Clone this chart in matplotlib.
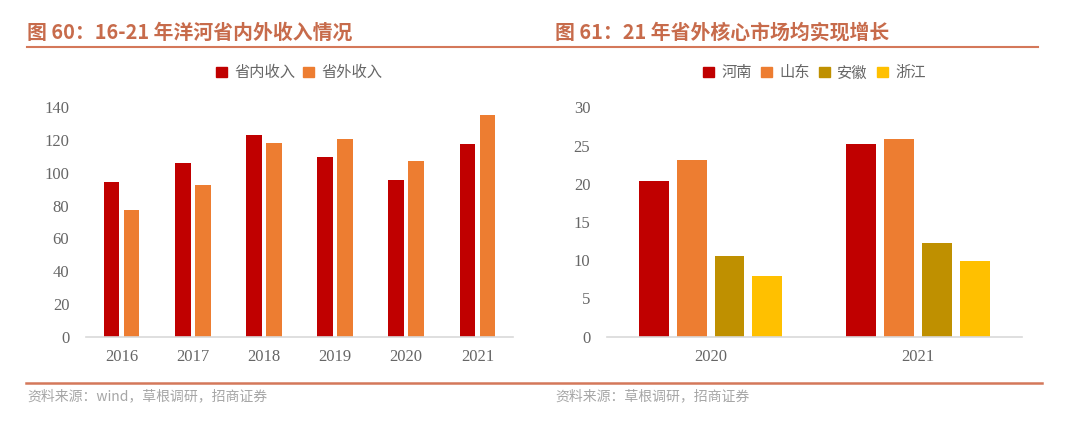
import matplotlib
matplotlib.use("Agg")
import matplotlib.pyplot as plt
from matplotlib.lines import Line2D
from matplotlib.patches import Patch
import numpy as np

plt.rcParams['font.family'] = ['Noto Sans CJK SC', 'DejaVu Sans']

# data - left chart
years = ['2016', '2017', '2018', '2019', '2020', '2021']
inside_income = [94.2, 106.0, 122.9, 109.7, 95.4, 117.6]
outside_income = [77.1, 92.6, 118.2, 120.9, 107.4, 135.3]

# data - right chart
years2 = ['2020', '2021']
henan = [20.3, 25.2]
shandong = [23.1, 25.9]
anhui = [10.6, 12.3]
zhejiang = [7.9, 9.9]

red = '#C00000'
orange = '#ED7D31'
gold = '#BF9000'
yellow = '#FFC000'
title_color = '#C76B4B'
line_color = '#D4785A'
tick_color = '#666666'

fig = plt.figure(figsize=(10.8, 4.29), dpi=100)

ax1 = fig.add_axes([0.0796, 0.2152, 0.3954, 0.5347])
ax2 = fig.add_axes([0.562, 0.2152, 0.384, 0.5347])

# left chart bars
x = np.arange(len(years))
ax1.bar(x - 0.14, inside_income, 0.22, color=red)
ax1.bar(x + 0.14, outside_income, 0.22, color=orange)
ax1.set_xlim(-0.5, len(years) - 0.5)
ax1.set_ylim(0, 140)
ax1.set_yticks(range(0, 141, 20))
ax1.set_xticks(x)
ax1.set_xticklabels(years)

# right chart bars
x2 = np.arange(len(years2))
step = 0.182
w = 0.144
ax2.bar(x2 - 1.5 * step, henan, w, color=red)
ax2.bar(x2 - 0.5 * step, shandong, w, color=orange)
ax2.bar(x2 + 0.5 * step, anhui, w, color=gold)
ax2.bar(x2 + 1.5 * step, zhejiang, w, color=yellow)
ax2.set_xlim(-0.5, len(years2) - 0.5)
ax2.set_ylim(0, 30)
ax2.set_yticks(range(0, 31, 5))
ax2.set_xticks(x2)
ax2.set_xticklabels(years2)

for ax in [ax1, ax2]:
    for s in ['top', 'right', 'left']:
        ax.spines[s].set_visible(False)
    ax.spines['bottom'].set_color('#D9D9D9')
    ax.spines['bottom'].set_linewidth(1.2)
    ax.tick_params(axis='both', length=0, colors=tick_color)
    ax.tick_params(axis='y', pad=12)
    ax.tick_params(axis='x', pad=9)
    for lab in ax.get_xticklabels() + ax.get_yticklabels():
        lab.set_fontfamily('Liberation Serif')
        lab.set_fontsize(12)

# legends
h1 = [Patch(color=red, label='省内收入'), Patch(color=orange, label='省外收入')]
ax1.legend(handles=h1, loc='center', bbox_to_anchor=(0.5, 1.15), ncol=2, frameon=False,
           fontsize=11, handlelength=0.7, handleheight=0.7, handletextpad=0.5,
           columnspacing=0.5, labelcolor=tick_color)
h2 = [Patch(color=red, label='河南'), Patch(color=orange, label='山东'),
      Patch(color=gold, label='安徽'), Patch(color=yellow, label='浙江')]
ax2.legend(handles=h2, loc='center', bbox_to_anchor=(0.5, 1.15), ncol=4, frameon=False,
           fontsize=11, handlelength=0.7, handleheight=0.7, handletextpad=0.5,
           columnspacing=0.6, labelcolor=tick_color)

# titles
fig.text(27 / 1080, 1 - 32 / 429, '图 60：16-21 年洋河省内外收入情况', fontsize=14.3,
         fontweight='bold', color=title_color, va='center', ha='left')
fig.text(555 / 1080, 1 - 32 / 429, '图 61：21 年省外核心市场均实现增长', fontsize=14.3,
         fontweight='bold', color=title_color, va='center', ha='left')

# header and footer lines
fig.add_artist(Line2D([27 / 1080, 1038 / 1080], [1 - 47 / 429, 1 - 47 / 429],
                      color=line_color, linewidth=1.5))
fig.add_artist(Line2D([26 / 1080, 1042 / 1080], [1 - 383 / 429, 1 - 383 / 429],
                      color=line_color, linewidth=1.8))

# sources
fig.text(27 / 1080, 1 - 396 / 429, '资料来源：wind，草根调研，招商证券', fontsize=10,
         color='#A6A6A6', va='center', ha='left')
fig.text(555 / 1080, 1 - 396 / 429, '资料来源：草根调研，招商证券', fontsize=10,
         color='#A6A6A6', va='center', ha='left')

fig.savefig('out.png', dpi=100)
